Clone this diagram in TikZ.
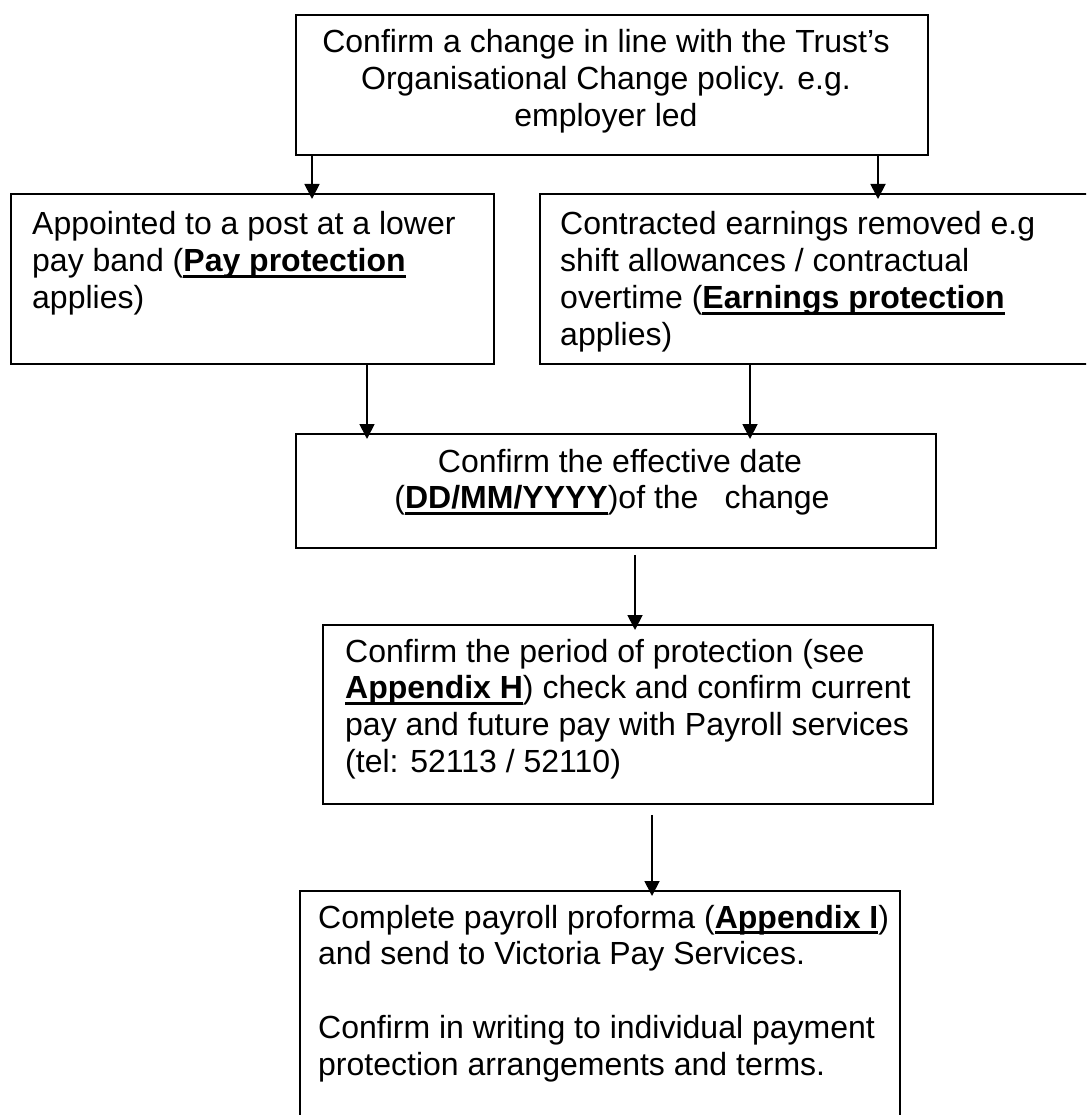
\documentclass[tikz,border=0pt]{standalone}
\usepackage{fontspec}
\setmainfont{Liberation Sans}
\usetikzlibrary{arrows.meta}
\newlength\ulw
\newcommand\ulb[1]{\settowidth\ulw{\textbf{#1}}\rlap{\rule[-6pt]{\ulw}{2.6pt}}\textbf{#1}}
\tikzset{
  box/.style={draw=black, line width=1.8pt, rectangle, inner sep=0pt, anchor=north west},
  txt/.style={inner sep=0pt, font=\fontsize{32}{36.8}\selectfont, text=black},
  arr/.style={draw=black, line width=1.8pt, -{Triangle[width=15pt,length=15pt]}, shorten >=-6pt}
}
\begin{document}
\begin{tikzpicture}[x=1pt,y=-1pt]
\clip (0,0) rectangle (1086,1115);
\fill[white] (0,0) rectangle (1086,1115);
% boxes
\node[box, minimum width=632pt, minimum height=140pt] (top) at (295,14) {};
\node[box, minimum width=483pt, minimum height=170pt] (left) at (10,193) {};
\node[box, minimum width=560pt, minimum height=170pt] (right) at (539,193) {};
\node[box, minimum width=640pt, minimum height=114pt] (mid) at (295,433) {};
\node[box, minimum width=610pt, minimum height=179pt] (per) at (322,624) {};
\node[box, minimum width=600pt, minimum height=260pt] (fin) at (299,890) {};
% texts
\node[txt, anchor=base] (ttop) at (606,53) {\begin{tabular}[t]{@{}c@{}}Confirm a change in line with the Trust’s\\Organisational Change policy. e.g.\\employer led\end{tabular}};
\node[txt, anchor=base west] (tleft) at (32,235) {\begin{tabular}[t]{@{}l@{}}Appointed to a post at a lower\\pay band (\ulb{Pay protection}\\applies)\end{tabular}};
\node[txt, anchor=base west] (tright) at (560,235) {\begin{tabular}[t]{@{}l@{}}Contracted earnings removed e.g\\shift allowances / contractual\\overtime (\ulb{Earnings protection}\\applies)\end{tabular}};
\node[txt, anchor=base] (tmid) at (612,472) {\begin{tabular}[t]{@{}c@{}}\hspace*{16pt}Confirm the effective date\\(\ulb{DD/MM/YYYY})of the\hspace{26pt}change\end{tabular}};
\node[txt, anchor=base west] (tper) at (345,662) {\begin{tabular}[t]{@{}l@{}}Confirm the period of protection (see\\\ulb{Appendix H}) check and confirm current\\pay and future pay with Payroll services\\(tel: 52113 / 52110)\end{tabular}};
\node[txt, anchor=base west] (tfin) at (318,928) {\begin{tabular}[t]{@{}l@{}}Complete payroll proforma (\ulb{Appendix I})\\and send to Victoria Pay Services.\\ \\Confirm in writing to individual payment\\protection arrangements and terms.\end{tabular}};
% connectors
\draw[arr] (312,0 |- top.south) -- (312,0 |- left.north);
\draw[arr] (878,0 |- top.south) -- (878,0 |- right.north);
\draw[arr] (367,0 |- left.south) -- (367,0 |- mid.north);
\draw[arr] (750,0 |- right.south) -- (750,0 |- mid.north);
\draw[arr, shorten <=6pt] (635,0 |- mid.south) -- (635,0 |- per.north);
\draw[arr, shorten <=10pt] (652,0 |- per.south) -- (652,0 |- fin.north);
\end{tikzpicture}
\end{document}
